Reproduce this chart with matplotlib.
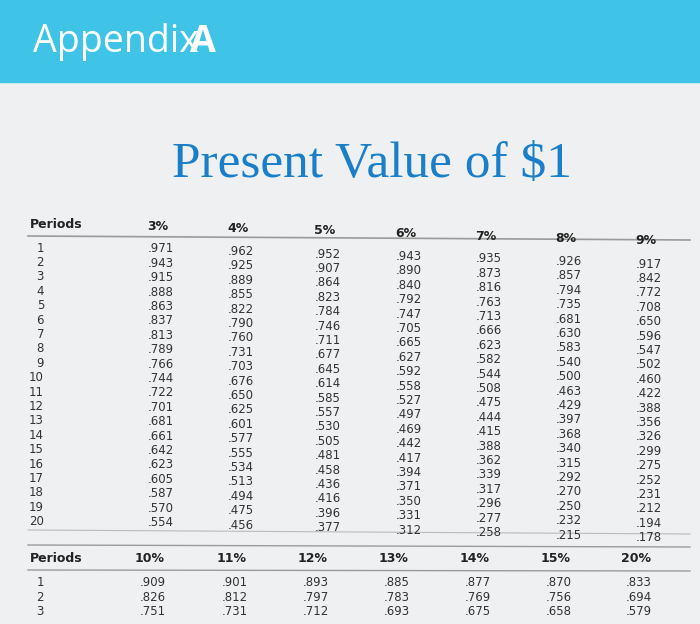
import matplotlib.pyplot as plt
from matplotlib.patches import Rectangle

top_rates = ["3%", "4%", "5%", "6%", "7%", "8%", "9%"]
top_values = [
    [971, 943, 915, 888, 863, 837, 813, 789, 766, 744, 722, 701, 681, 661, 642, 623, 605, 587, 570, 554],
    [962, 925, 889, 855, 822, 790, 760, 731, 703, 676, 650, 625, 601, 577, 555, 534, 513, 494, 475, 456],
    [952, 907, 864, 823, 784, 746, 711, 677, 645, 614, 585, 557, 530, 505, 481, 458, 436, 416, 396, 377],
    [943, 890, 840, 792, 747, 705, 665, 627, 592, 558, 527, 497, 469, 442, 417, 394, 371, 350, 331, 312],
    [935, 873, 816, 763, 713, 666, 623, 582, 544, 508, 475, 444, 415, 388, 362, 339, 317, 296, 277, 258],
    [926, 857, 794, 735, 681, 630, 583, 540, 500, 463, 429, 397, 368, 340, 315, 292, 270, 250, 232, 215],
    [917, 842, 772, 708, 650, 596, 547, 502, 460, 422, 388, 356, 326, 299, 275, 252, 231, 212, 194, 178],
]
bottom_rates = ["10%", "11%", "12%", "13%", "14%", "15%", "20%"]
bottom_values = [
    [909, 826, 751], [901, 812, 731], [893, 797, 712], [885, 783, 693],
    [877, 769, 675], [870, 756, 658], [833, 694, 579],
]
top_periods = list(range(1, 21))
bottom_periods = [1, 2, 3]

fig = plt.figure(figsize=(7, 6.24), dpi=100)
ax = fig.add_axes([0, 0, 1, 1])
ax.set_xlim(0, 700)
ax.set_ylim(624, 0)
ax.axis("off")

ax.add_patch(Rectangle((0, 0), 700, 624, color="#eef0f1", zorder=0))
ax.add_patch(Rectangle((0, 0), 700, 82, color="#3fc3e6", zorder=1))
ax.text(33, 42, "Appendix", color="white", fontsize=27, family="Open Sans", va="center")
ax.text(190, 42, "A", color="white", fontsize=27, family="Open Sans", weight="bold", va="center")
ax.text(372, 165, "Present Value of $1", color="#1a7fc8", fontsize=37,
        family="Liberation Serif", ha="center", va="center")

# top table
ax.plot([28, 690], [236, 240], color="#9a9a9a", lw=1.2)
ax.plot([28, 690], [530, 534], color="#bbbbbb", lw=0.8)
ax.text(30, 224, "Periods", fontsize=9, weight="bold", va="center", color="#222")
col_x = [158, 238, 325, 406, 486, 566, 646]
for i, (rate, vals) in enumerate(zip(top_rates, top_values)):
    off = i * 2.5
    ax.text(col_x[i], 226 + off, rate, fontsize=9, weight="bold", ha="center", va="center", color="#222")
    for j, v in enumerate(vals):
        ax.text(col_x[i] + 3, 249 + off + j * 14.4, "." + str(v), fontsize=8.5,
                ha="center", va="center", color="#333")
for j, p in enumerate(top_periods):
    ax.text(44, 248 + j * 14.4, str(p), fontsize=8.5, ha="right", va="center", color="#333")

# bottom table
ax.plot([28, 690], [545, 547], color="#9a9a9a", lw=1.0)
ax.plot([28, 690], [570, 571], color="#9a9a9a", lw=1.0)
ax.text(30, 558, "Periods", fontsize=9, weight="bold", va="center", color="#222")
bcol_x = [150, 232, 313, 394, 475, 556, 636]
for i, (rate, vals) in enumerate(zip(bottom_rates, bottom_values)):
    ax.text(bcol_x[i], 559, rate, fontsize=9, weight="bold", ha="center", va="center", color="#222")
    for j, v in enumerate(vals):
        ax.text(bcol_x[i] + 3, 583 + j * 14.2, "." + str(v), fontsize=8.5,
                ha="center", va="center", color="#333")
for j, p in enumerate(bottom_periods):
    ax.text(44, 583 + j * 14.2, str(p), fontsize=8.5, ha="right", va="center", color="#333")

fig.savefig("out.png", dpi=100)
